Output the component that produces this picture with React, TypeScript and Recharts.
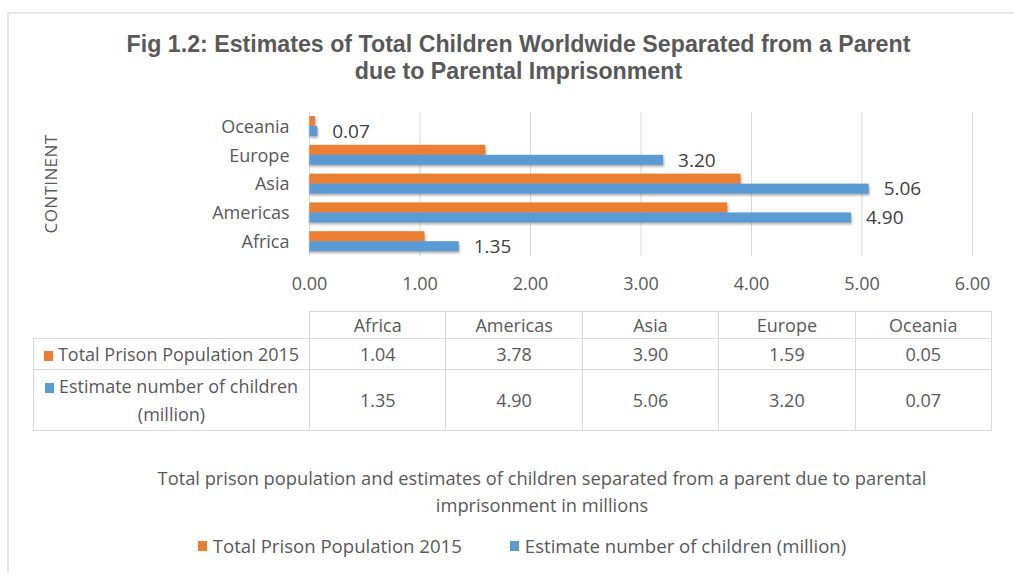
import { Bar, BarChart, CartesianGrid, LabelList, Legend, XAxis, YAxis } from 'recharts'

const continents = ['Africa', 'Americas', 'Asia', 'Europe', 'Oceania']
const prisonPopulation2015 = [1.04, 3.78, 3.9, 1.59, 0.05]
const childrenEstimate = [1.35, 4.9, 5.06, 3.2, 0.07]
const xTicks = [0, 1, 2, 3, 4, 5, 6]

const seriesList = [
  { key: 'prison', label: 'Total Prison Population 2015', color: '#ED7D31', values: prisonPopulation2015 },
  { key: 'children', label: 'Estimate number of children (million)', color: '#5B9BD5', values: childrenEstimate }
]

const titleLines = ['Fig 1.2: Estimates of Total Children Worldwide Separated from a Parent', 'due to Parental Imprisonment']
const subtitleLines = [
  'Total prison population and estimates of children separated from a parent due to parental',
  'imprisonment in millions'
]

const TEXT = '#595959'
const GRID = '#D9D9D9'
const FONT = "'Open Sans', sans-serif"
const FONT_SIZE = 18

// excel lists the first category at the bottom, recharts at the top
const chartData = continents
  .map((name, index) => ({
    name,
    prison: prisonPopulation2015[index],
    children: childrenEstimate[index]
  }))
  .reverse()

function ShadowBar(props: any) {
  const { x, y, width, height, fill } = props
  if (!width || width <= 0) {
    return null
  }
  return (
    <g>
      <rect
        x={x}
        y={y + 2}
        width={width + 1}
        height={height}
        fill="rgba(0,0,0,0.3)"
        style={{ filter: 'blur(1.2px)' }}
      />
      <rect x={x} y={y} width={width} height={height} fill={fill} />
    </g>
  )
}

function AxisTitle(props: any) {
  const box = props.viewBox || { x: 0, y: 0, width: 0, height: 0 }
  const cx = box.x + 50
  const cy = box.y + box.height / 2
  return (
    <text
      x={cx}
      y={cy}
      transform={`rotate(-90, ${cx}, ${cy})`}
      textAnchor="middle"
      dominantBaseline="central"
      fill={TEXT}
      fontSize={17}
      letterSpacing={0.4}
    >
      CONTINENT
    </text>
  )
}

function LegendRow(props: any) {
  const order = seriesList.map((series) => series.label)
  const payload = [...(props.payload || [])].sort(
    (a: any, b: any) => order.indexOf(a.value) - order.indexOf(b.value)
  )
  return (
    <div
      style={{
        display: 'flex',
        justifyContent: 'center',
        gap: 48,
        fontFamily: FONT,
        fontSize: 18.6,
        color: TEXT
      }}
    >
      {payload.map((entry: any) => (
        <div key={entry.value} style={{ display: 'flex', alignItems: 'center', gap: 6 }}>
          <span style={{ width: 9, height: 10, background: entry.color, display: 'inline-block' }} />
          <span>{entry.value}</span>
        </div>
      ))}
    </div>
  )
}

const cellBorder = `1px solid ${GRID}`

function DataTable() {
  const valueColWidth = 136.4
  return (
    <table
      style={{
        position: 'absolute',
        left: 33,
        top: 311,
        borderCollapse: 'collapse',
        tableLayout: 'fixed',
        width: 276 + valueColWidth * continents.length,
        fontFamily: FONT,
        fontSize: FONT_SIZE,
        color: TEXT
      }}
    >
      <colgroup>
        <col style={{ width: 276 }} />
        {continents.map((name) => (
          <col key={name} style={{ width: valueColWidth }} />
        ))}
      </colgroup>
      <tbody>
        <tr style={{ height: 27 }}>
          <td />
          {continents.map((name) => (
            <td key={name} style={{ border: cellBorder, textAlign: 'center', padding: 0 }}>
              {name}
            </td>
          ))}
        </tr>
        {seriesList.map((series, rowIndex) => (
          <tr key={series.key} style={{ height: rowIndex === 0 ? 31 : 61 }}>
            <td
              style={{
                border: cellBorder,
                textAlign: 'center',
                padding: '0 2px',
                lineHeight: '28px',
                whiteSpace: 'nowrap'
              }}
            >
              <span
                style={{
                  display: 'inline-block',
                  width: 9,
                  height: 10,
                  background: series.color,
                  marginRight: 5
                }}
              />
              {series.key === 'children' ? (
                <>
                  Estimate number of children
                  <br />
                  (million)
                </>
              ) : (
                series.label
              )}
            </td>
            {series.values.map((value, index) => (
              <td key={continents[index]} style={{ border: cellBorder, textAlign: 'center', padding: 0 }}>
                {value.toFixed(2)}
              </td>
            ))}
          </tr>
        ))}
      </tbody>
    </table>
  )
}

export default function App() {
  return (
    <div
      style={{
        position: 'absolute',
        left: 0,
        top: 0,
        width: 1014,
        height: 573,
        overflow: 'hidden',
        background: '#fff',
        fontFamily: FONT
      }}
    >
      <div
        style={{
          position: 'absolute',
          left: 7,
          top: 12,
          width: 1100,
          height: 700,
          borderTop: '2px solid #E6E6E6',
          borderLeft: '2px solid #E6E6E6'
        }}
      />
      <div
        style={{
          position: 'absolute',
          left: 0,
          top: 31,
          width: 1037,
          textAlign: 'center',
          fontFamily: "'Liberation Sans', Arial, sans-serif",
          fontWeight: 'bold',
          fontSize: 23.2,
          lineHeight: '27px',
          color: TEXT
        }}
      >
        {titleLines.map((line) => (
          <div key={line}>{line}</div>
        ))}
      </div>

      <div style={{ position: 'absolute', left: 0, top: 0 }}>
        <BarChart
          width={1014}
          height={573}
          data={chartData}
          layout="vertical"
          margin={{ top: 112, right: 41.5, bottom: 287, left: 0 }}
          barGap={0}
          barSize={10}
        >
          <CartesianGrid horizontal={false} vertical stroke={GRID} />
          <XAxis
            type="number"
            domain={[0, 6]}
            ticks={xTicks}
            tickFormatter={(value: number) => value.toFixed(2)}
            axisLine={false}
            tickLine={false}
            tickSize={0}
            tickMargin={21}
            height={30}
            tick={{ fontSize: FONT_SIZE, fill: TEXT }}
          />
          <YAxis
            type="category"
            dataKey="name"
            width={309.5}
            axisLine={false}
            tickLine={false}
            tickSize={0}
            tickMargin={20}
            tick={{ fontSize: FONT_SIZE, fill: TEXT }}
            label={{ content: AxisTitle }}
          />
          <Legend
            layout="horizontal"
            verticalAlign="middle"
            align="center"
            content={LegendRow}
            wrapperStyle={{ top: 533, left: 0, width: 1044 }}
          />
          {seriesList.map((series) => (
            <Bar
              key={series.key}
              dataKey={series.key}
              name={series.label}
              fill={series.color}
              shape={ShadowBar}
              isAnimationActive={false}
            >
              {series.key === 'children' ? (
                <LabelList
                  dataKey="children"
                  position="right"
                  offset={15}
                  fill="#404040"
                  fontSize={19}
                  formatter={(value: any) => Number(value).toFixed(2)}
                />
              ) : null}
            </Bar>
          ))}
        </BarChart>
      </div>

      <DataTable />

      <div
        style={{
          position: 'absolute',
          left: 100,
          top: 464,
          width: 884,
          textAlign: 'center',
          fontSize: 18.3,
          lineHeight: '27px',
          color: TEXT
        }}
      >
        {subtitleLines.map((line) => (
          <div key={line}>{line}</div>
        ))}
      </div>
    </div>
  )
}
